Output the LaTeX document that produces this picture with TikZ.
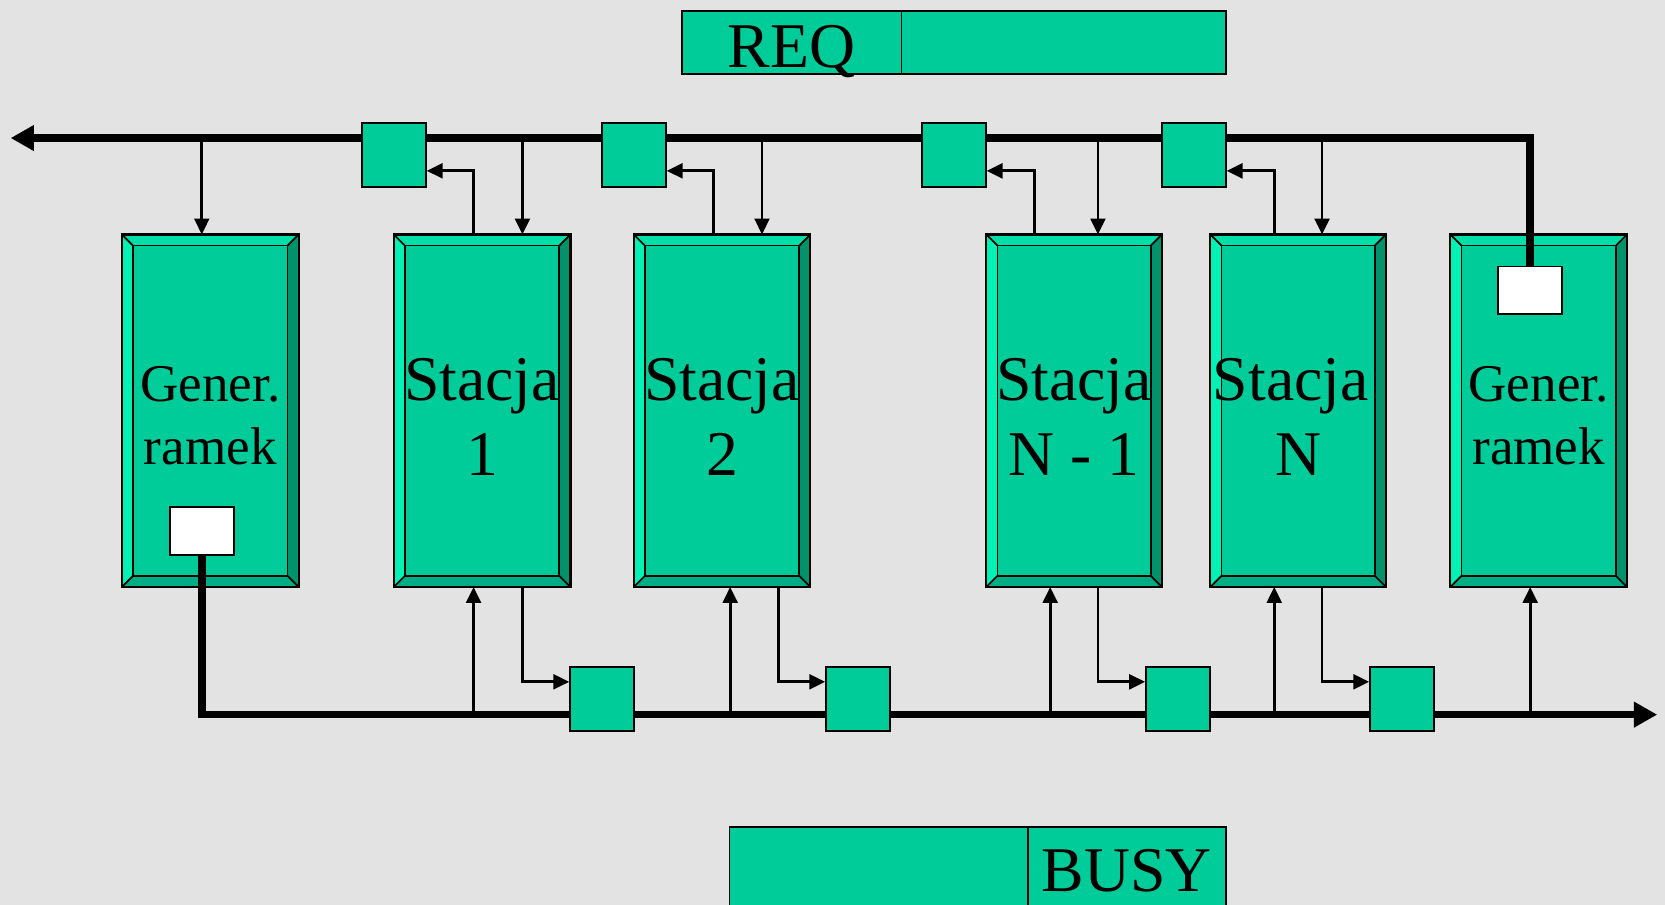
\documentclass[tikz,border=0pt]{standalone}
\usepackage{fontspec}
\setmainfont{Liberation Serif}
\usetikzlibrary{calc,arrows.meta}
\definecolor{bgc}{HTML}{E3E3E3}
\definecolor{face}{HTML}{00CC99}
\definecolor{bvtop}{HTML}{00DFA8}
\definecolor{bvleft}{HTML}{00F2B4}
\definecolor{bvright}{HTML}{00926A}
\definecolor{bvbot}{HTML}{00AC84}
\pgfdeclarelayer{back}
\pgfdeclarelayer{bus}
\pgfsetlayers{back,bus,main}
\newcommand\bevelbox[1]{%
\begin{pgfonlayer}{back}
\fill[bvtop] (#1.north west) -- (#1.north east) -- ($(#1.north east)+(-10.5,10.5)$) -- ($(#1.north west)+(10.5,10.5)$) -- cycle;
\fill[bvleft] (#1.north west) -- ($(#1.north west)+(10.5,10.5)$) -- ($(#1.south west)+(10.5,-10.5)$) -- (#1.south west) -- cycle;
\fill[bvright] (#1.north east) -- ($(#1.north east)+(-10.5,10.5)$) -- ($(#1.south east)+(-10.5,-10.5)$) -- (#1.south east) -- cycle;
\fill[bvbot] (#1.south west) -- ($(#1.south west)+(10.5,-10.5)$) -- ($(#1.south east)+(-10.5,-10.5)$) -- (#1.south east) -- cycle;
\fill[face] ($(#1.north west)+(10.5,10.5)$) rectangle ($(#1.south east)+(-10.5,-10.5)$);
\draw[line width=1.6] ($(#1.north west)+(10.5,10.5)$) rectangle ($(#1.south east)+(-10.5,-10.5)$);
\draw[line width=1.6] (#1.north west) -- ++(10.5,10.5) (#1.north east) -- ++(-10.5,10.5) (#1.south east) -- ++(-10.5,-10.5) (#1.south west) -- ++(10.5,-10.5);
\draw[line width=2] (#1.north west) rectangle (#1.south east);
\end{pgfonlayer}}
\tikzset{
  stbox/.style={rectangle, minimum width=166, minimum height=331.6, inner sep=0},
  sttext/.style={align=center, inner sep=0, font=\fontsize{60}{71}\selectfont},
  gentext/.style={align=center, inner sep=0, font=\fontsize{50}{59}\selectfont},
  sqst/.style={draw, line width=1.8, fill=face, minimum width=60, minimum height=60, inner sep=0},
  wbox/.style={draw, line width=1.8, fill=white, minimum width=60, minimum height=45, inner sep=0},
  cell/.style={draw, line width=1.8, fill=face, inner sep=0},
  bigtext/.style={inner sep=0, font=\fontsize{60}{72}\selectfont},
  tarr/.style={line width=2.6, -{Triangle[length=15pt,width=14pt]}},
  busline/.style={line width=7.2, line join=miter, -{Triangle[length=22pt,width=23pt]}}
}
\begin{document}
\begin{tikzpicture}[x=1pt,y=-1pt]
\useasboundingbox (0,0) rectangle (1568,852);
\begin{pgfonlayer}{back}
\fill[bgc] (0,0) rectangle (1568,852);
\end{pgfonlayer}

% REQ and BUSY bars
\node[cell, minimum width=207, minimum height=60] (reqL) at (745.5,40) {};
\node[cell, minimum width=305.6, minimum height=60] (reqR) at (1001.8,40) {};
\node[bigtext, anchor=base] (reqT) at (745.5,64) {REQ};
\node[cell, minimum width=281, minimum height=74] (busyL) at (827.5,816) {};
\node[cell, minimum width=186.6, minimum height=74] (busyR) at (1061.3,816) {};
\node[bigtext, anchor=base] (busyT) at (1061.3,840) {BUSY};

% main boxes
\node[stbox] (gen1) at (198,386.8) {};
\node[stbox] (st1) at (454,386.8) {};
\node[stbox] (st2) at (680,386.8) {};
\node[stbox, minimum width=165] (stn1) at (1011.5,386.8) {};
\node[stbox, minimum width=165] (stn) at (1222.5,386.8) {};
\node[stbox] (gen2) at (1449,386.8) {};
\bevelbox{gen1}\bevelbox{st1}\bevelbox{st2}\bevelbox{stn1}\bevelbox{stn}\bevelbox{gen2}

\node[gentext] (gen1t) at ($(gen1.center)+(0,4.5)$) {Gener.\\ramek};
\node[sttext] (st1t) at ($(st1.center)+(0,6)$) {Stacja\\1};
\node[sttext] (st2t) at ($(st2.center)+(0,6)$) {Stacja\\2};
\node[sttext] (stn1t) at ($(stn1.center)+(0,6)$) {Stacja\\N - 1};
\node[sttext] (stnt) at ($(stn.center)+(0,6)$) {\hspace*{-14pt}Stacja\\N};
\node[gentext] (gen2t) at ($(gen2.center)+(0,4.5)$) {Gener.\\ramek};

% white boxes
\node[wbox] (w1) at (190,500) {};
\node[wbox] (w2) at (1440.8,273.5) {};

% squares
\node[sqst] (sq1) at (371,146) {};
\node[sqst] (sq2) at (597,146) {};
\node[sqst] (sq3) at (898.3,146) {};
\node[sqst] (sq4) at (1124.3,146) {};
\node[sqst] (sqA) at (567,658) {};
\node[sqst] (sqB) at (808,658) {};
\node[sqst] (sqC) at (1109.3,658) {};
\node[sqst] (sqD) at (1320.3,658) {};

% bus ends
\coordinate (tL) at (10,130);
\coordinate (bR) at (1560.7,673);
\begin{pgfonlayer}{bus}
\draw[busline] (w2.north) |- (tL);
\draw[busline] (w1.south) |- (bR);
\end{pgfonlayer}

% column coordinates
\coordinate (xg1) at (190,0);
\coordinate (x1u) at (446,0);
\coordinate (x1d) at (492,0);
\coordinate (x2u) at (672,0);
\coordinate (x2d) at (717.6,0);
\coordinate (x2b) at (687.6,0);
\coordinate (x2e) at (733,0);
\coordinate (x3u) at (974,0);
\coordinate (x3b) at (989,0);
\coordinate (x3d) at (1034,0);
\coordinate (x4u) at (1200,0);
\coordinate (x4d) at (1245,0);
\coordinate (xg2) at (1441,0);

% top: bus down into boxes
\draw[tarr] (xg1 |- tL) -- (xg1 |- gen1.north);
\draw[tarr] (x1d |- tL) -- (x1d |- st1.north);
\draw[tarr] (x2d |- tL) -- (x2d |- st2.north);
\draw[tarr] (x3d |- tL) -- (x3d |- stn1.north);
\draw[tarr] (x4d |- tL) -- (x4d |- stn.north);
% top: boxes up into squares
\draw[tarr] (x1u |- st1.north) |- ($(sq1.south east)+(0,-16)$);
\draw[tarr] (x2u |- st2.north) |- ($(sq2.south east)+(0,-16)$);
\draw[tarr] (x3u |- stn1.north) |- ($(sq3.south east)+(0,-16)$);
\draw[tarr] (x4u |- stn.north) |- ($(sq4.south east)+(0,-16)$);
% bottom: bus up into boxes
\draw[tarr] (x1u |- bR) -- (x1u |- st1.south);
\draw[tarr] (x2b |- bR) -- (x2b |- st2.south);
\draw[tarr] (x3b |- bR) -- (x3b |- stn1.south);
\draw[tarr] (x4u |- bR) -- (x4u |- stn.south);
\draw[tarr] (xg2 |- bR) -- (xg2 |- gen2.south);
% bottom: boxes down into squares
\draw[tarr] (x1d |- st1.south) |- ($(sqA.north west)+(0,15)$);
\draw[tarr] (x2e |- st2.south) |- ($(sqB.north west)+(0,15)$);
\draw[tarr] (x3d |- stn1.south) |- ($(sqC.north west)+(0,15)$);
\draw[tarr] (x4d |- stn.south) |- ($(sqD.north west)+(0,15)$);
\end{tikzpicture}
\end{document}
